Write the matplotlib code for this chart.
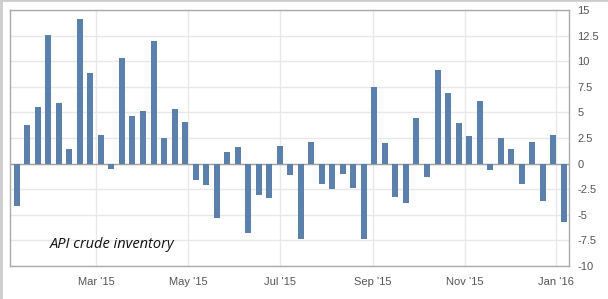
import matplotlib
matplotlib.use("Agg")
from matplotlib import pyplot as plt
from matplotlib import dates as mdates
from matplotlib.lines import Line2D
import pandas as pd

# weekly API crude inventory change (million barrels), Jan 2015 - Jan 2016
start_date = "2015-01-07"
values = [
    -4.1, 3.8, 5.5, 12.6, 5.9, 1.4, 14.1, 8.8, 2.8, -0.5,
    10.3, 4.6, 5.1, 12.0, 2.5, 5.3, 4.1, -1.6, -2.1, -5.3,
    1.1, 1.6, -6.8, -3.1, -3.4, 1.7, -1.1, -7.4, 2.1, -2.0,
    -2.5, -1.0, -2.4, -7.4, 7.5, 2.0, -3.3, -3.8, 4.5, -1.3,
    9.1, 6.9, 4.0, 2.7, 6.1, -0.6, 2.5, 1.4, -2.0, 2.1,
    -3.7, 2.8, -5.7,
]
x_ticks = ["2015-03-01", "2015-05-01", "2015-07-01", "2015-09-01", "2015-11-01", "2016-01-01"]
y_ticks = [15, 12.5, 10, 7.5, 5, 2.5, 0, -2.5, -5, -7.5, -10]
label = "API crude inventory"

plt.rcParams["font.family"] = ["Liberation Sans", "DejaVu Sans"]

dates = pd.date_range(start_date, periods=len(values), freq="7D")

fig = plt.figure(figsize=(6.08, 2.99), dpi=100)
ax = fig.add_axes([10 / 608, 33 / 299, 559 / 608, 256 / 299])

ax.bar(dates, values, width=4, color="#5b80ac", zorder=3)

ax.set_xlim(pd.Timestamp("2015-01-02 12:00"), pd.Timestamp("2016-01-09 12:00"))
ax.set_ylim(-10, 15)

ax.set_xticks(pd.to_datetime(x_ticks))
ax.xaxis.set_major_formatter(mdates.DateFormatter("%b '%y"))
ax.set_yticks(y_ticks)
ax.set_yticklabels([f"{v:g}" for v in y_ticks])
ax.yaxis.tick_right()

ax.tick_params(axis="both", length=0, labelsize=8, labelcolor="#555555")
ax.tick_params(axis="y", pad=6)
ax.tick_params(axis="x", pad=8)
ax.grid(True, color="#e8e8e8", linewidth=1, zorder=0)

# zero line
ax.axhline(0, color="#a0a0a0", linewidth=1, zorder=2)

for s in ax.spines.values():
    s.set_color("#aaaaaa")
    s.set_linewidth(1)

ax.text(0.072, 0.085, label, transform=ax.transAxes, fontsize=10.5,
        style="italic", family="Open Sans", color="#111111", va="center")

# light frame round the picture
fig.add_artist(Line2D([0.001, 0.001], [0, 1], transform=fig.transFigure, color="#cccccc", lw=2))
fig.add_artist(Line2D([0, 1], [0.999, 0.999], transform=fig.transFigure, color="#cccccc", lw=2))

fig.savefig("out.png", dpi=100)
